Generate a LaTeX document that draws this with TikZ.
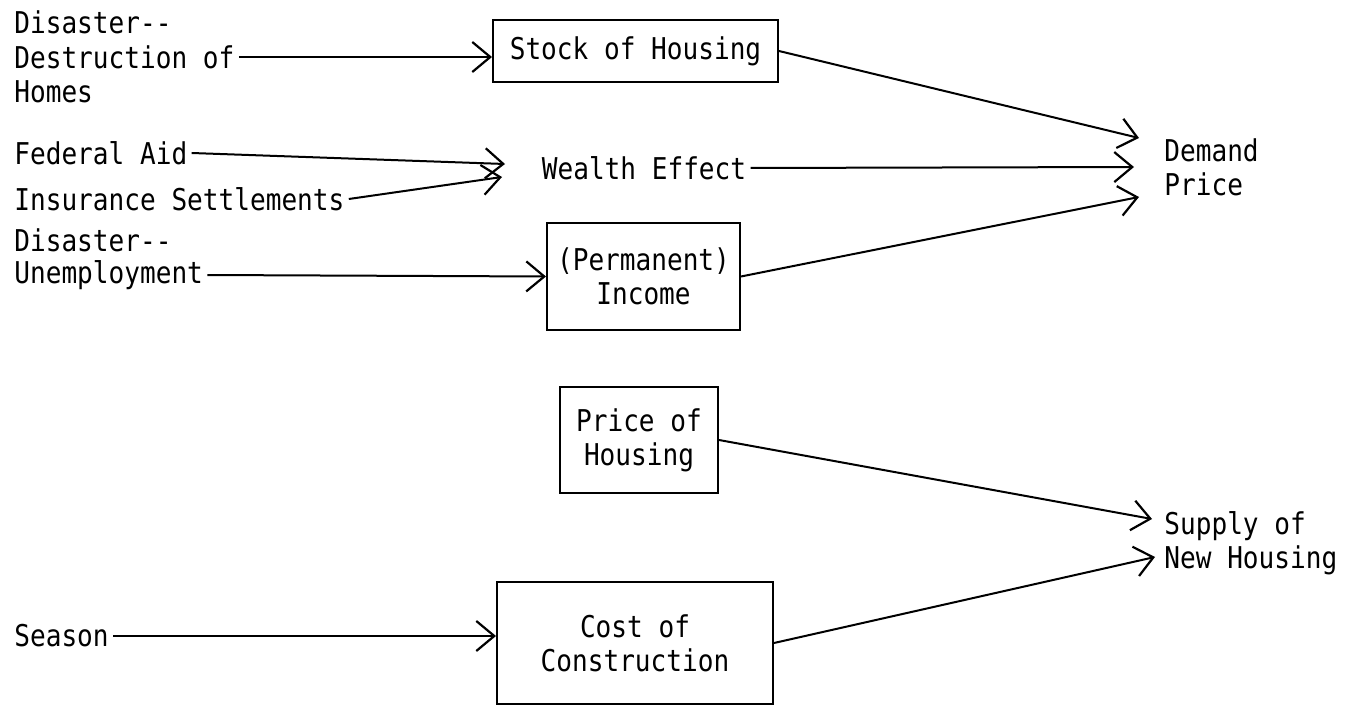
\documentclass[tikz,border=0pt]{standalone}
\usepackage{fontspec}
\usetikzlibrary{arrows.meta}
\newfontfamily\tw[FakeStretch=0.87]{DejaVu Sans Mono}
\begin{document}
\begin{tikzpicture}[x=0.5pt,y=-0.5pt,
  txt/.style={font=\tw\fontsize{15pt}{17pt}\selectfont, inner sep=2pt},
  lbl/.style={txt, anchor=west, align=left},
  box/.style={txt, draw, line width=1pt, align=center},
  conn/.style={line width=1pt},
  arr/.style={conn, -{Straight Barb[length=9pt,width=15pt,line width=1.1pt]}}]
\useasboundingbox (0,0) rectangle (1356,706);
% left labels
\node[lbl] (dis1) at (10,22) {Disaster--};
\node[lbl] (dis2) at (10,57) {Destruction of};
\node[lbl] (dis3) at (10,92) {Homes};
\node[lbl] (fed) at (10,153) {Federal Aid};
\node[lbl] (ins) at (10,199) {Insurance Settlements};
\node[lbl] (un1) at (10,240) {Disaster--};
\node[lbl] (un2) at (10,275) {Unemployment};
\node[lbl] (season) at (10,636) {Season};
% boxes
\node[box, minimum width=142.5pt, minimum height=31pt] (stock) at (635.5,51) {Stock of Housing};
\node[txt] (wealth) at (644,168) {Wealth Effect};
\node[box, minimum width=96.5pt, minimum height=53.5pt] (income) at (643.5,276.5) {(Permanent)\\Income};
\node[box, minimum width=79pt, minimum height=53pt] (price) at (639,440) {Price of\\Housing};
\node[box, minimum width=138pt, minimum height=61pt] (cost) at (635,643) {Cost of\\Construction};
% right labels
\node[lbl] (dp) at (1160,167) {Demand\\Price};
\node[lbl] (sup) at (1160,543) {Supply of\\New Housing};
% arrow tip coordinates
\coordinate (wA) at (505,164);
\coordinate (wB) at (502,177);
\coordinate (dA) at (1139,138);
\coordinate (dB) at (1134,167);
\coordinate (dC) at (1139,197);
\coordinate (sA) at (1152,519);
\coordinate (sB) at (1155,557);
% connectors
\draw[arr] (dis2.east) -- (dis2.east -| stock.west);
\draw[arr] (fed.east) -- (wA);
\draw[arr] (ins.east) -- (wB);
\draw[arr] (un2.east) -- (income.west);
\draw[arr] (season.east) -- (season.east -| cost.west);
\draw[arr] (stock.east) -- (dA);
\draw[arr] (wealth.east) -- (dB);
\draw[arr] (income.east) -- (dC);
\draw[arr] (price.east) -- (sA);
\draw[arr] (cost.east) -- (sB);
\end{tikzpicture}
\end{document}
